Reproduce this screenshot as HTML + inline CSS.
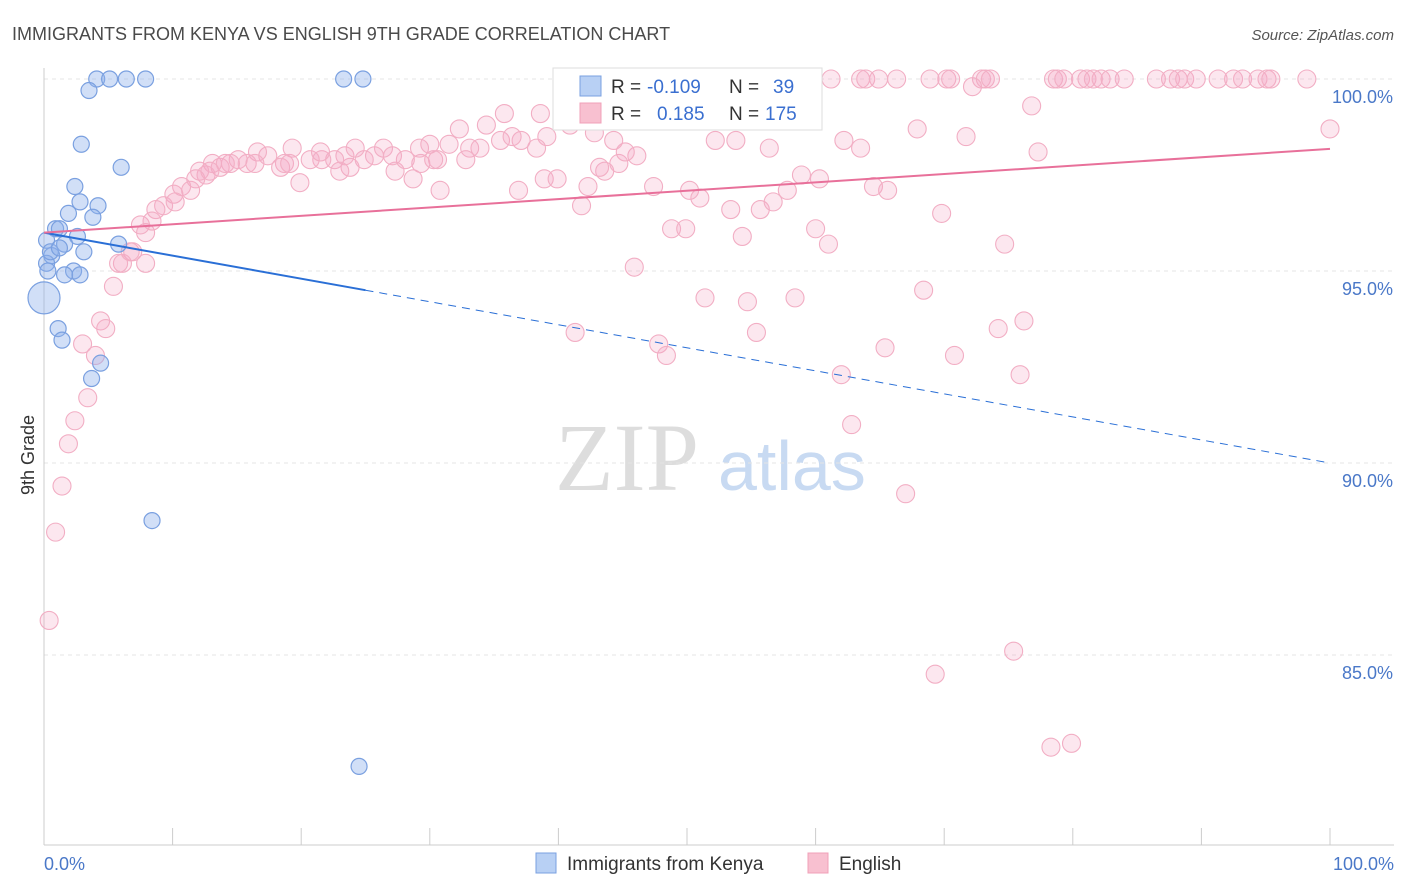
<!DOCTYPE html>
<html><head><meta charset="utf-8"><style>
body{margin:0;background:#fff;font-family:"Liberation Sans",sans-serif}
</style></head><body>
<svg id="c" width="1406" height="892" xmlns="http://www.w3.org/2000/svg" style="display:block">
<text x="12" y="40" font-size="18" fill="#4a4a4a">IMMIGRANTS FROM KENYA VS ENGLISH 9TH GRADE CORRELATION CHART</text>
<text x="1394" y="40" font-size="15" fill="#555" font-style="italic" text-anchor="end">Source: ZipAtlas.com</text>
<text x="555" y="490" font-size="96" fill="#ddd" font-family="Liberation Serif,serif">ZIP</text>
<text x="718" y="490" font-size="70" fill="#c8daf2">atlas</text>
<g id="grid"></g><g id="pts"></g><g id="lines"></g>
<text transform="translate(34,455) rotate(-90)" font-size="18" fill="#333" text-anchor="middle">9th Grade</text>
<text x="44" y="870" font-size="18" fill="#4a78c8">0.0%</text>
<text x="1394" y="870" font-size="18" fill="#4a78c8" text-anchor="end">100.0%</text>
<g>
<rect x="553" y="68" width="269" height="62" fill="#fff" stroke="#ddd"/>
<rect x="580" y="76" width="21" height="20" fill="#b8d0f4" stroke="#7aa0e0"/>
<rect x="580" y="103" width="21" height="20" fill="#f8c0d0" stroke="#f0a0b8"/>
<text x="611" y="93" font-size="19" fill="#333">R =</text><text x="647" y="93" font-size="19" fill="#3a6fd0">-0.109</text>
<text x="729" y="93" font-size="19" fill="#333">N =</text><text x="773" y="93" font-size="19" fill="#3a6fd0">39</text>
<text x="611" y="120" font-size="19" fill="#333">R =</text><text x="657" y="120" font-size="19" fill="#3a6fd0">0.185</text>
<text x="729" y="120" font-size="19" fill="#333">N =</text><text x="765" y="120" font-size="19" fill="#3a6fd0">175</text>
</g>
<g><rect x="536" y="853" width="20" height="20" fill="#b8d0f4" stroke="#7aa0e0"/><text x="567" y="870" font-size="19" fill="#333">Immigrants from Kenya</text></g>
<g><rect x="808" y="853" width="20" height="20" fill="#f8c0d0" stroke="#f0a0b8"/><text x="839" y="870" font-size="19" fill="#333">English</text></g>
</svg>
<script>
const yTicks=[100,95,90,85];
const xTicks=[0,10,20,30,40,50,60,70,80,90,100];
const blueX=[4.1,5.1,6.4,7.9,23.3,24.8,3.5,2.9,6.0,2.4,2.8,4.2,1.9,3.8,0.9,1.2,2.6,0.2,1.6,5.8,3.1,0.6,0.2,2.3,1.6,2.8,0.0,1.1,1.4,4.4,3.7,8.4,24.5,0.5,1.2,0.3];
const blueY=[100,100,100,100,100,100,99.7,98.3,97.7,97.2,96.8,96.7,96.5,96.4,96.1,96.1,95.9,95.8,95.7,95.7,95.5,95.4,95.2,95.0,94.9,94.9,94.3,93.5,93.2,92.6,92.2,88.5,82.1,95.5,95.6,95.0];
const pinkX=[59.3,61.2,63.5,63.9,64.9,66.3,68.9,70.2,70.5,72.9,73.2,73.6,78.5,78.8,79.3,80.6,81.1,81.6,82.2,82.9,84.0,86.5,87.6,88.2,88.7,89.6,91.3,92.5,93.2,94.4,95.1,95.4,98.2,72.2,59.3,
100,76.8,67.9,71.7,77.3,62.2,63.5,56.4,52.2,53.8,52.3,53.1,38.6,39.1,42.8,40.9,34.4,35.8,37.1,38.3,32.3,33.1,33.9,31.5,30.6,29.3,30.3,32.8,36.9,38.9,39.9,41.8,42.3,43.6,44.7,46.1,45.2,44.3,43.2,47.4,50.2,51.0,53.4,55.7,56.7,57.8,58.9,60.3,64.5,65.6,69.8,74.7,60.0,61.0,54.3,48.8,49.9,45.9,51.4,54.7,58.4,68.4,76.2,74.2,70.8,65.4,55.4,47.8,48.4,41.3,62.0,75.9,62.8,67.0,69.3,75.4,78.3,79.9,
30.8,28.7,27.3,28.1,26.4,25.7,24.9,23.8,23.4,22.6,21.6,20.7,19.9,19.3,18.7,18.4,17.4,16.6,15.8,15.1,14.5,13.7,13.1,12.6,11.8,10.7,11.4,10.1,9.3,8.7,7.9,7.5,8.4,6.9,6.1,5.8,5.4,4.4,4.8,4.0,3.0,3.4,2.4,1.9,1.4,0.9,0.4,
24.2,21.5,27.1,29.2,30.0,35.5,36.4,16.4,12.1,23.0,10.2,6.7,7.9,12.9,14.1,19.1];
const pinkY=[100,100,100,100,100,100,100,100,100,100,100,100,100,100,100,100,100,100,100,100,100,100,100,100,100,100,100,100,100,100,100,100,100,99.8,99.8,
98.7,99.3,98.7,98.5,98.1,98.4,98.2,98.2,98.4,98.4,99.0,99.0,99.1,98.5,98.6,98.8,98.8,99.1,98.4,98.2,98.7,98.2,98.2,98.3,97.9,97.8,97.9,97.9,97.1,97.4,97.4,96.7,97.2,97.6,97.8,98.0,98.1,98.4,97.7,97.2,97.1,96.9,96.6,96.6,96.8,97.1,97.5,97.4,97.2,97.1,96.5,95.7,96.1,95.7,95.9,96.1,96.1,95.1,94.3,94.2,94.3,94.5,93.7,93.5,92.8,93.0,93.4,93.1,92.8,93.4,92.3,92.3,91.0,89.2,84.5,85.1,82.6,82.7,
97.1,97.4,97.6,97.9,98.2,98.0,97.9,97.7,98.0,97.9,97.9,97.9,97.3,98.2,97.8,97.7,98.0,98.1,97.8,97.9,97.8,97.7,97.8,97.5,97.4,97.2,97.1,97.0,96.7,96.6,96.0,96.2,96.3,95.5,95.2,95.2,94.6,93.7,93.5,92.8,93.1,91.7,91.1,90.5,89.4,88.2,85.9,
98.2,98.1,98.0,98.2,98.3,98.4,98.5,97.8,97.6,97.6,96.8,95.5,95.2,97.6,97.8,97.8];
const blueLine=[96.0,-0.06]; const blueSolidEnd=25;
const pinkLine=[96.0,0.0218];
const X=v=>44+v*12.86, Y=v=>79+(100-v)*38.4;
const NS="http://www.w3.org/2000/svg";
function mk(t,a,p){const e=document.createElementNS(NS,t);for(const k in a)e.setAttribute(k,a[k]);p.appendChild(e);return e;}
const grid=document.getElementById('grid');
yTicks.forEach(t=>{
 const l=mk('line',{x1:44,x2:1394,y1:Y(t),y2:Y(t),stroke:'#e4e4e4','stroke-dasharray':'4,4'},grid);
 
 
 const tx=mk('text',{x:1393,y:Y(t)+24,'font-size':18,fill:'#4a78c8','text-anchor':'end'},grid);
 tx.textContent=t.toFixed(1)+'%';
 
 
});
mk('line',{x1:44,x2:44,y1:68,y2:845,stroke:'#ccc'},grid);
mk('line',{x1:44,x2:1394,y1:845,y2:845,stroke:'#ccc'},grid);
xTicks.forEach(t=>{
 const l=mk('line',{x1:X(t),x2:X(t),y1:828,y2:845,stroke:'#ccc'},grid);
 
 
});
const pts=document.getElementById('pts');
pinkX.forEach((x,i)=>{
 const c=mk('circle',{cx:X(x),cy:Y(pinkY[i]),r:9,fill:'rgba(246,170,198,0.28)',stroke:'#f2aec4','stroke-width':1.1},pts);
 
 
});
blueX.forEach((x,i)=>{
 const c=mk('circle',{cx:X(x),cy:Y(blueY[i]),r:(x===0?16:8),fill:'rgba(140,175,235,0.4)',stroke:'#7aa0e0','stroke-width':1.2},pts);
 
 
});
const ln=document.getElementById('lines');
const by=v=>blueLine[0]+blueLine[1]*v, py=v=>pinkLine[0]+pinkLine[1]*v;
const b1=mk('line',{x1:X(0),y1:Y(by(0)),x2:X(blueSolidEnd),y2:Y(by(blueSolidEnd)),stroke:'#2a6fd6','stroke-width':2},ln);


const b2=mk('line',{x1:X(blueSolidEnd),y1:Y(by(blueSolidEnd)),x2:X(100),y2:Y(by(100)),stroke:'#2a6fd6','stroke-width':1,'stroke-dasharray':'8,6'},ln);


const p1=mk('line',{x1:X(0),y1:Y(py(0)),x2:X(100),y2:Y(py(100)),stroke:'#e8709a','stroke-width':2},ln);


</script>
</body></html>
